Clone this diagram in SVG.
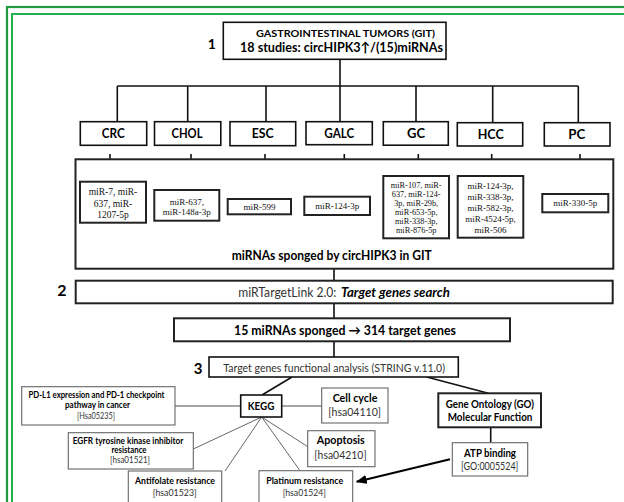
<svg xmlns="http://www.w3.org/2000/svg" width="624" height="502" viewBox="0 0 624 502">
<defs>
<marker id="ah" markerUnits="userSpaceOnUse" markerWidth="11" markerHeight="9" refX="10" refY="4.5" orient="auto">
<path d="M0,0 L11,4.5 L0,9 z" fill="#000"/>
</marker>
<style>
.b{fill:#fff;stroke:#111;stroke-width:1.6}
.bt{fill:#fff;stroke:#222;stroke-width:2}
.bg{fill:#fff;stroke:#666;stroke-width:1.1}
.c{fill:none;stroke:#111;stroke-width:1.6}
.cg{fill:none;stroke:#666;stroke-width:1}
.ch{fill:none;stroke:#888;stroke-width:1.6}
.ar{fill:none;stroke:#111;stroke-width:1.6}
.s{font-family:Lato,"Liberation Sans",sans-serif;font-weight:bold;fill:#000}
.r{font-family:Lato,"Liberation Sans",sans-serif;fill:#333}
.t{font-family:"Liberation Serif","Times New Roman",serif;fill:#111;text-anchor:middle}
.m{text-anchor:middle}
</style>
</defs>
<rect width="624" height="502" fill="#fff"/>
<g id="frame">
<rect x="7" y="7" width="700" height="600" fill="none" stroke="#1f9a3e" stroke-width="2.2"/>
<rect x="12" y="14" width="700" height="600" fill="none" stroke="#22b14c" stroke-width="2"/>
</g>
<g id="connectors">
<path class="c" d="M340,59.3 V86 M117.3,86 H578.3 M117.3,86 V121.7 M187.7,86 V121.7 M266,86 V121.7 M340,86 V121.7 M416,86 V121.7 M492.7,86 V122.7 M578.3,86 V122.7"/>
<path class="ar" d="M110,154 V171.7 M103.5,163 L110,171.7 L116.5,163 M191,154 V171.7 M184.5,163 L191,171.7 L197.5,163 M265,154 V171.7 M258.5,163 L265,171.7 L271.5,163 M344.3,154 V171.7 M337.8,163 L344.3,171.7 L350.8,163 M418.3,154 V171.7 M411.8,163 L418.3,171.7 L424.8,163 M491.7,154 V171.7 M485.2,163 L491.7,171.7 L498.2,163 M580,154 V171.7 M573.5,163 L580,171.7 L586.5,163"/>
<path class="c" d="M334,268.7 V280.7 M334,303.3 V318.3 M334,341.3 V357"/>
<path class="c" d="M292,377 L262,395 M426.7,377 L488.3,393.3 M490.7,427.3 V442.7"/>
<path class="ch" d="M175,406 H240.7 M281.7,406 H321.7"/>
<path class="cg" d="M261.7,417 L193.3,449 M261.7,417 L225,471 M261.7,417 L300,470.7 M261.7,417 L307.7,446.7"/>
<line x1="450" y1="459.3" x2="356.7" y2="481.7" stroke="#000" stroke-width="2.2" marker-end="url(#ah)"/>
</g>
<g id="n1">
<rect class="b" x="223.3" y="22.3" width="222.7" height="37"/>
<text class="s" x="256" y="36.5" font-size="9.5" textLength="179" lengthAdjust="spacingAndGlyphs">GASTROINTESTINAL TUMORS (GIT)</text>
<text class="s" x="240" y="52.3" font-size="13.5" textLength="203" lengthAdjust="spacingAndGlyphs">18 studies: circHIPK3↑/(15)miRNAs</text>
</g>
<text id="num1" class="s m" x="211.7" y="49" font-size="14">1</text>
<g id="crc"><rect class="b" x="80.3" y="121.7" width="66.4" height="23.6"/><text class="s m" x="113.3" y="138.3" font-size="13" textLength="23" lengthAdjust="spacingAndGlyphs">CRC</text></g>
<g id="chol"><rect class="b" x="154.5" y="121.7" width="66.3" height="23.6"/><text class="s m" x="187" y="138.3" font-size="13" textLength="31" lengthAdjust="spacingAndGlyphs">CHOL</text></g>
<g id="esc"><rect class="b" x="230" y="121.7" width="65.7" height="24"/><text class="s m" x="262.7" y="138.3" font-size="13" textLength="22" lengthAdjust="spacingAndGlyphs">ESC</text></g>
<g id="galc"><rect class="b" x="306" y="121.7" width="66.3" height="23"/><text class="s m" x="339.3" y="138" font-size="13" textLength="30" lengthAdjust="spacingAndGlyphs">GALC</text></g>
<g id="gc"><rect class="b" x="383.3" y="121.7" width="65" height="23.5"/><text class="s m" x="416" y="138.3" font-size="13" textLength="18" lengthAdjust="spacingAndGlyphs">GC</text></g>
<g id="hcc"><rect class="b" x="457.3" y="122.7" width="65.4" height="23.3"/><text class="s m" x="490.7" y="139.3" font-size="13" textLength="26" lengthAdjust="spacingAndGlyphs">HCC</text></g>
<g id="pc"><rect class="b" x="544.3" y="122.7" width="65.7" height="23.3"/><text class="s m" x="576.7" y="139.3" font-size="13" textLength="17" lengthAdjust="spacingAndGlyphs">PC</text></g>
<g id="sponged">
<rect class="bt" x="75.5" y="159.3" width="537.8" height="109.4"/>
<text class="s" x="231.7" y="260" font-size="13" textLength="200" lengthAdjust="spacingAndGlyphs">miRNAs sponged by circHIPK3 in GIT</text>
</g>
<g id="mir-crc"><rect class="bt" x="80" y="181.7" width="66" height="41"/>
<text class="t" x="113" y="195" font-size="9.5">miR-7,  miR-</text><text class="t" x="113" y="206.5" font-size="9.5">637,  miR-</text><text class="t" x="113" y="218" font-size="9.5">1207-5p</text></g>
<g id="mir-chol"><rect class="bt" x="154.3" y="190" width="65" height="30.7"/>
<text class="t" x="186.8" y="204.5" font-size="9">miR-637,</text><text class="t" x="186.8" y="215" font-size="9">miR-148a-3p</text></g>
<g id="mir-esc"><rect class="bt" x="227.7" y="199" width="63.3" height="15.3"/><text class="t" x="259.4" y="210" font-size="9">miR-599</text></g>
<g id="mir-galc"><rect class="bt" x="304.3" y="196.7" width="65.7" height="18.3"/><text class="t" x="337.2" y="209" font-size="9">miR-124-3p</text></g>
<g id="mir-gc"><rect class="bt" x="383.3" y="176" width="65.7" height="62.3"/>
<text class="t" x="416.2" y="188" font-size="8.3">miR-107, miR-</text><text class="t" x="416.2" y="197" font-size="8.3">637, miR-124-</text><text class="t" x="416.2" y="206" font-size="8.3">3p, miR-29b,</text><text class="t" x="416.2" y="215" font-size="8.3">miR-653-5p,</text><text class="t" x="416.2" y="224" font-size="8.3">miR-338-3p,</text><text class="t" x="416.2" y="233" font-size="8.3">miR-876-5p</text></g>
<g id="mir-hcc"><rect class="bt" x="457.7" y="176" width="65.6" height="61.7"/>
<text class="t" x="490.5" y="189" font-size="9">miR-124-3p,</text><text class="t" x="490.5" y="200" font-size="9">miR-338-3p,</text><text class="t" x="490.5" y="211" font-size="9">miR-582-3p,</text><text class="t" x="490.5" y="222" font-size="9">miR-4524-5p,</text><text class="t" x="490.5" y="233" font-size="9">miR-506</text></g>
<g id="mir-pc"><rect class="bt" x="542.3" y="194" width="66" height="18.3"/><text class="t" x="575.3" y="206" font-size="9">miR-330-5p</text></g>
<g id="n2">
<rect class="bt" x="75.7" y="280.7" width="537" height="22.6"/>
<text class="r" x="238.3" y="296.5" font-size="13" textLength="98" lengthAdjust="spacingAndGlyphs">miRTargetLink 2.0:</text>
<text class="s" x="341" y="296.5" font-size="13" font-style="italic" textLength="109" lengthAdjust="spacingAndGlyphs">Target genes search</text>
</g>
<text id="num2" class="s m" x="62" y="296" font-size="16">2</text>
<g id="n15">
<rect class="bt" x="174" y="318.3" width="336" height="23"/>
<text class="s" x="234" y="334.5" font-size="13" textLength="222" lengthAdjust="spacingAndGlyphs">15 miRNAs sponged → 314 target genes</text>
</g>
<g id="n3">
<rect class="b" x="209" y="357" width="249.3" height="20"/>
<text class="r" x="223.3" y="371.5" font-size="12" textLength="221.7" lengthAdjust="spacingAndGlyphs">Target genes functional analysis (STRING v.11.0)</text>
</g>
<text id="num3" class="s m" x="198" y="373.5" font-size="15">3</text>
<g id="kegg"><rect class="b" x="240.7" y="395" width="41" height="22"/><text class="s m" x="261" y="409.5" font-size="11" textLength="26.7" lengthAdjust="spacingAndGlyphs">KEGG</text></g>
<g id="pdl1"><rect class="bg" x="21.7" y="386.7" width="153.3" height="38.3"/>
<text class="s m" x="96.5" y="398" font-size="8.8" fill="#222" textLength="136" lengthAdjust="spacingAndGlyphs">PD-L1 expression and PD-1 checkpoint</text>
<text class="s m" x="97.5" y="408" font-size="8.8" fill="#222" textLength="65" lengthAdjust="spacingAndGlyphs">pathway in cancer</text>
<text class="r m" x="96" y="418.5" font-size="8.8" textLength="38" lengthAdjust="spacingAndGlyphs">[Hsa05235]</text></g>
<g id="egfr"><rect class="bg" x="68.3" y="432.7" width="125" height="36.3"/>
<text class="s m" x="128" y="443.5" font-size="8.8" fill="#222" textLength="110.7" lengthAdjust="spacingAndGlyphs">EGFR tyrosine kinase inhibitor</text>
<text class="s m" x="129" y="453" font-size="8.8" fill="#222" textLength="35" lengthAdjust="spacingAndGlyphs">resistance</text>
<text class="r m" x="130" y="462.7" font-size="8.8" textLength="40" lengthAdjust="spacingAndGlyphs">[hsa01521]</text></g>
<g id="antifolate"><rect class="bg" x="128.3" y="471" width="93.4" height="40"/>
<text class="s m" x="175" y="484" font-size="9.5" fill="#222" textLength="80" lengthAdjust="spacingAndGlyphs">Antifolate resistance</text>
<text class="r m" x="174.7" y="496.3" font-size="9.5" textLength="44" lengthAdjust="spacingAndGlyphs">[hsa01523]</text></g>
<g id="platinum"><rect class="bg" x="259" y="470.7" width="93.7" height="40"/>
<text class="s m" x="304.7" y="483.5" font-size="9.5" fill="#222" textLength="77" lengthAdjust="spacingAndGlyphs">Platinum resistance</text>
<text class="r m" x="304.3" y="496.3" font-size="9.5" textLength="43.3" lengthAdjust="spacingAndGlyphs">[hsa01524]</text></g>
<g id="cellcycle"><rect class="bg" x="321.7" y="388" width="66.3" height="35"/>
<text class="s m" x="355" y="402" font-size="11" textLength="44.7" lengthAdjust="spacingAndGlyphs">Cell cycle</text>
<text class="r m" x="354.7" y="416" font-size="11" textLength="52.7" lengthAdjust="spacingAndGlyphs">[hsa04110]</text></g>
<g id="apoptosis"><rect class="bg" x="307.7" y="430.7" width="67.3" height="36"/>
<text class="s m" x="340.8" y="444" font-size="12" textLength="48" lengthAdjust="spacingAndGlyphs">Apoptosis</text>
<text class="r m" x="340.5" y="458.5" font-size="12" textLength="52.3" lengthAdjust="spacingAndGlyphs">[hsa04210]</text></g>
<g id="go"><rect class="bt" x="438.3" y="393.3" width="102.7" height="34"/>
<text class="s m" x="489.8" y="407.5" font-size="11" fill="#222" textLength="88.3" lengthAdjust="spacingAndGlyphs">Gene Ontology (GO)</text>
<text class="s m" x="490" y="420.5" font-size="11" fill="#222" textLength="84.7" lengthAdjust="spacingAndGlyphs">Molecular Function</text></g>
<g id="atp"><rect class="bg" x="452.3" y="442.7" width="75.4" height="33.3"/>
<text class="s m" x="490" y="456.5" font-size="11" fill="#222" textLength="52" lengthAdjust="spacingAndGlyphs">ATP binding</text>
<text class="r m" x="489.7" y="470" font-size="11" textLength="57.3" lengthAdjust="spacingAndGlyphs">[GO:0005524]</text></g>
</svg>
